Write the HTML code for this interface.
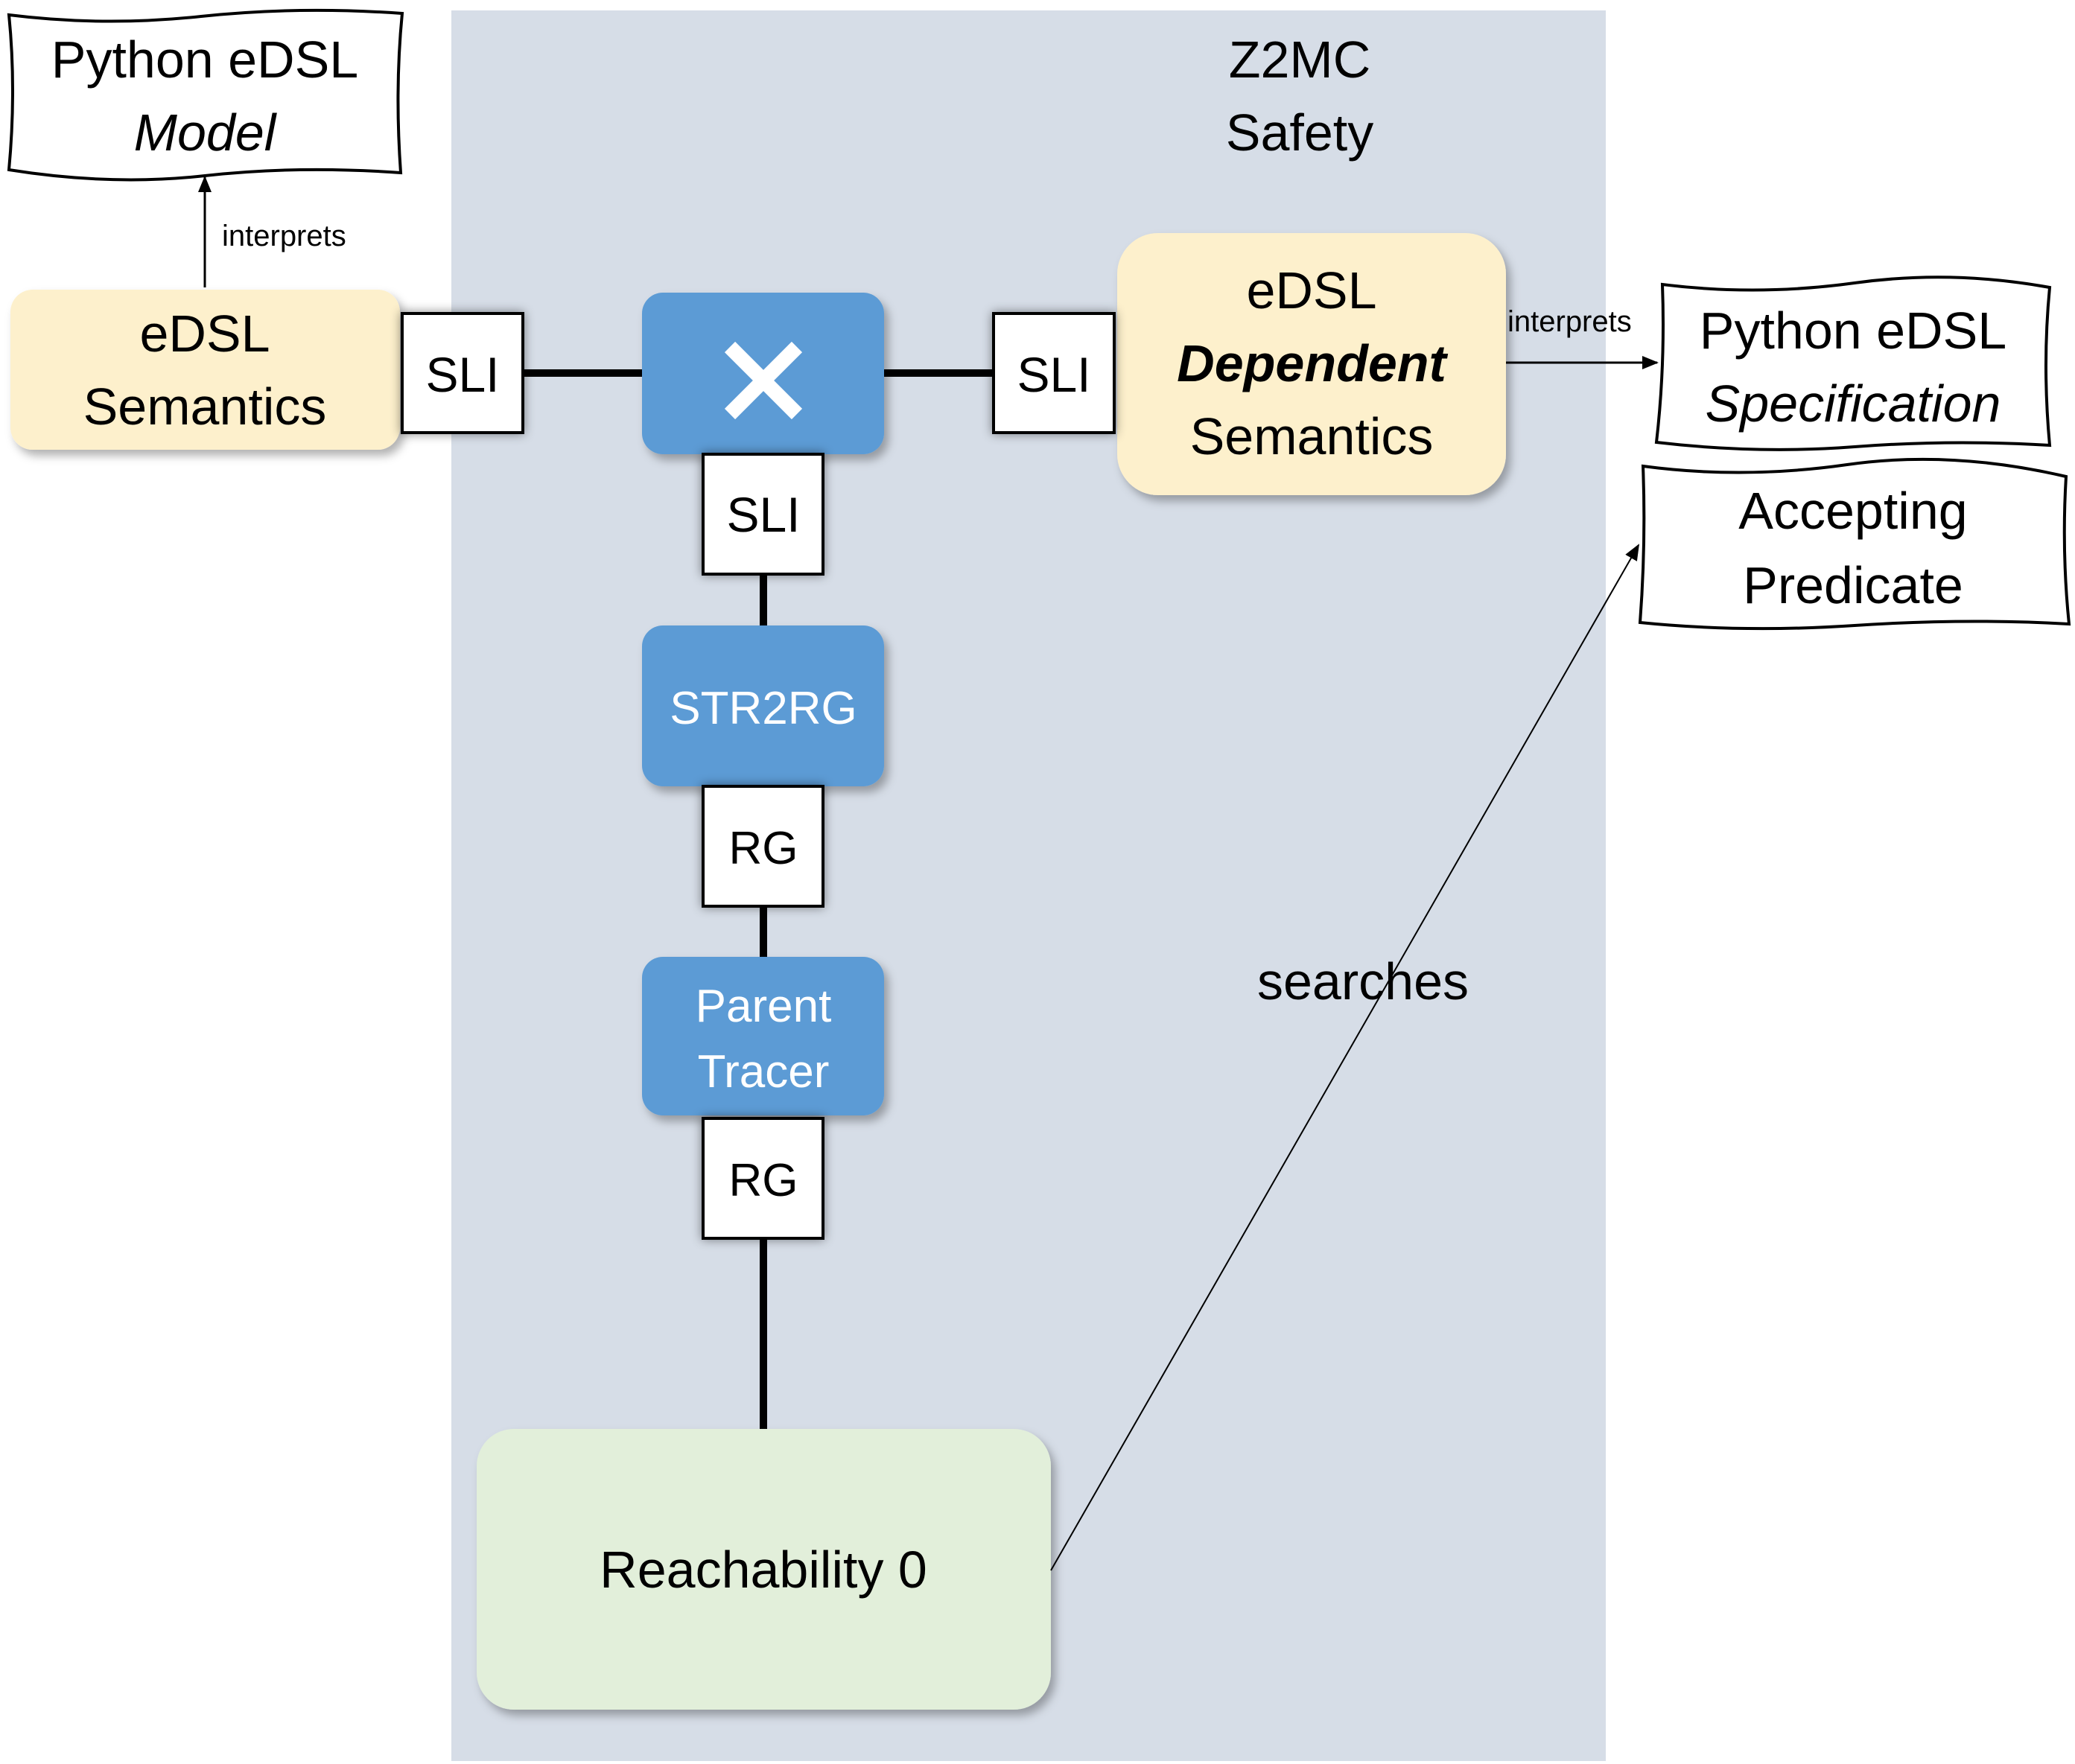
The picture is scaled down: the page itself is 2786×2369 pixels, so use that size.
<!DOCTYPE html>
<html><head><meta charset="utf-8"><style>
html,body{margin:0;padding:0;background:#fff}
svg{display:block}
text{font-family:"Liberation Sans",sans-serif;fill:#000}
</style></head><body>
<svg width="2786" height="2369" viewBox="0 0 2786 2369" xmlns="http://www.w3.org/2000/svg">
<defs>
<filter id="sh" x="-10%" y="-10%" width="130%" height="130%"><feDropShadow dx="6" dy="8" stdDeviation="6" flood-color="#000" flood-opacity="0.3"/></filter>
<filter id="sq" x="-20%" y="-20%" width="140%" height="140%"><feDropShadow dx="0" dy="0" stdDeviation="7" flood-color="#000" flood-opacity="0.45"/></filter>
<marker id="ar" markerWidth="10" markerHeight="10" refX="9" refY="5" orient="auto" markerUnits="userSpaceOnUse"><path d="M0,0 L10,5 L0,10 z" fill="#000"/></marker>
<marker id="ar2" markerWidth="22" markerHeight="18" refX="20" refY="9" orient="auto" markerUnits="userSpaceOnUse"><path d="M0,0 L22,9 L0,18 z" fill="#000"/></marker>
</defs>
<rect x="606" y="14" width="1550" height="2351" fill="#d6dde7"/>
<text x="1745" y="104" font-size="70" text-anchor="middle">Z2MC</text>
<text x="1745" y="202" font-size="70" text-anchor="middle">Safety</text>

<!-- wavy boxes -->
<path d="M12,20 Q140,36 270,22 T540,18 Q530,120 538,232 Q400,222 275,236 T12,228 Q22,120 12,20 Z" fill="#fff" stroke="#000" stroke-width="4"/>
<text x="275" y="104" font-size="70" text-anchor="middle">Python eDSL</text>
<text x="275" y="202" font-size="70" text-anchor="middle" font-style="italic">Model</text>

<path d="M2232,382 Q2360,398 2490,380 T2752,386 Q2742,490 2752,598 Q2620,590 2490,600 T2224,594 Q2236,490 2232,382 Z" fill="#fff" stroke="#000" stroke-width="4"/>
<text x="2488" y="468" font-size="70" text-anchor="middle">Python eDSL</text>
<text x="2488" y="566" font-size="70" text-anchor="middle" font-style="italic">Specification</text>

<path d="M2206,626 Q2340,644 2480,624 T2774,640 Q2768,740 2778,838 Q2640,830 2490,840 T2202,836 Q2210,730 2206,626 Z" fill="#fff" stroke="#000" stroke-width="4"/>
<text x="2488" y="710" font-size="70" text-anchor="middle">Accepting</text>
<text x="2488" y="810" font-size="70" text-anchor="middle">Predicate</text>

<!-- interprets arrows -->
<line x1="275" y1="386" x2="275" y2="238" stroke="#000" stroke-width="3" marker-end="url(#ar2)"/>
<text x="298" y="330" font-size="40">interprets</text>
<line x1="2022" y1="487" x2="2225" y2="487" stroke="#000" stroke-width="3" marker-end="url(#ar2)"/>
<text x="2024" y="445" font-size="40">interprets</text>

<!-- thick lines -->
<line x1="700" y1="501" x2="864" y2="501" stroke="#000" stroke-width="10"/>
<line x1="1185" y1="501" x2="1336" y2="501" stroke="#000" stroke-width="10"/>
<line x1="1025" y1="770" x2="1025" y2="842" stroke="#000" stroke-width="10"/>
<line x1="1025" y1="1216" x2="1025" y2="1287" stroke="#000" stroke-width="10"/>
<line x1="1025" y1="1662" x2="1025" y2="1921" stroke="#000" stroke-width="10"/>

<!-- eDSL semantics -->
<rect x="14" y="389" width="523" height="215" rx="30" fill="#fdf0cc" filter="url(#sh)"/>
<text x="275" y="472" font-size="70" text-anchor="middle">eDSL</text>
<text x="275" y="570" font-size="70" text-anchor="middle">Semantics</text>

<!-- dependent -->
<rect x="1500" y="313" width="522" height="352" rx="55" fill="#fdf0cc" filter="url(#sh)"/>
<text x="1761" y="414" font-size="70" text-anchor="middle">eDSL</text>
<text x="1761" y="512" font-size="70" text-anchor="middle" font-style="italic" font-weight="bold">Dependent</text>
<text x="1761" y="610" font-size="70" text-anchor="middle">Semantics</text>

<!-- blue boxes -->
<rect x="862" y="393" width="325" height="217" rx="28" fill="#5b9bd5" filter="url(#sh)"/>
<path d="M980,466 L1070,556 M1070,466 L980,556" stroke="#fff" stroke-width="20"/>
<rect x="862" y="840" width="325" height="216" rx="28" fill="#5b9bd5" filter="url(#sh)"/>
<text x="1025" y="972" font-size="62" text-anchor="middle" style="fill:#fff">STR2RG</text>
<rect x="862" y="1285" width="325" height="213" rx="28" fill="#5b9bd5" filter="url(#sh)"/>
<text x="1025" y="1372" font-size="62" text-anchor="middle" style="fill:#fff">Parent</text>
<text x="1025" y="1460" font-size="62" text-anchor="middle" style="fill:#fff">Tracer</text>

<!-- square boxes -->
<g stroke="#000" stroke-width="4" fill="#fff">
<rect x="540" y="421" width="162" height="160" filter="url(#sq)"/>
<rect x="1334" y="421" width="162" height="160" filter="url(#sq)"/>
<rect x="944" y="610" width="161" height="161" filter="url(#sq)"/>
<rect x="944" y="1056" width="161" height="161" filter="url(#sq)"/>
<rect x="944" y="1502" width="161" height="161" filter="url(#sq)"/>
</g>
<text x="621" y="526" font-size="66" text-anchor="middle">SLI</text>
<text x="1415" y="526" font-size="66" text-anchor="middle">SLI</text>
<text x="1025" y="714" font-size="66" text-anchor="middle">SLI</text>
<text x="1025" y="1160" font-size="62" text-anchor="middle">RG</text>
<text x="1025" y="1606" font-size="62" text-anchor="middle">RG</text>

<!-- reachability -->
<rect x="640" y="1919" width="771" height="377" rx="50" fill="#e2efda" filter="url(#sh)"/>
<text x="1025" y="2132" font-size="70" text-anchor="middle">Reachability 0</text>

<!-- searches -->
<line x1="1411" y1="2109" x2="2200" y2="732" stroke="#000" stroke-width="2" marker-end="url(#ar2)"/>
<text x="1830" y="1342" font-size="70" text-anchor="middle">searches</text>
</svg>
</body></html>
